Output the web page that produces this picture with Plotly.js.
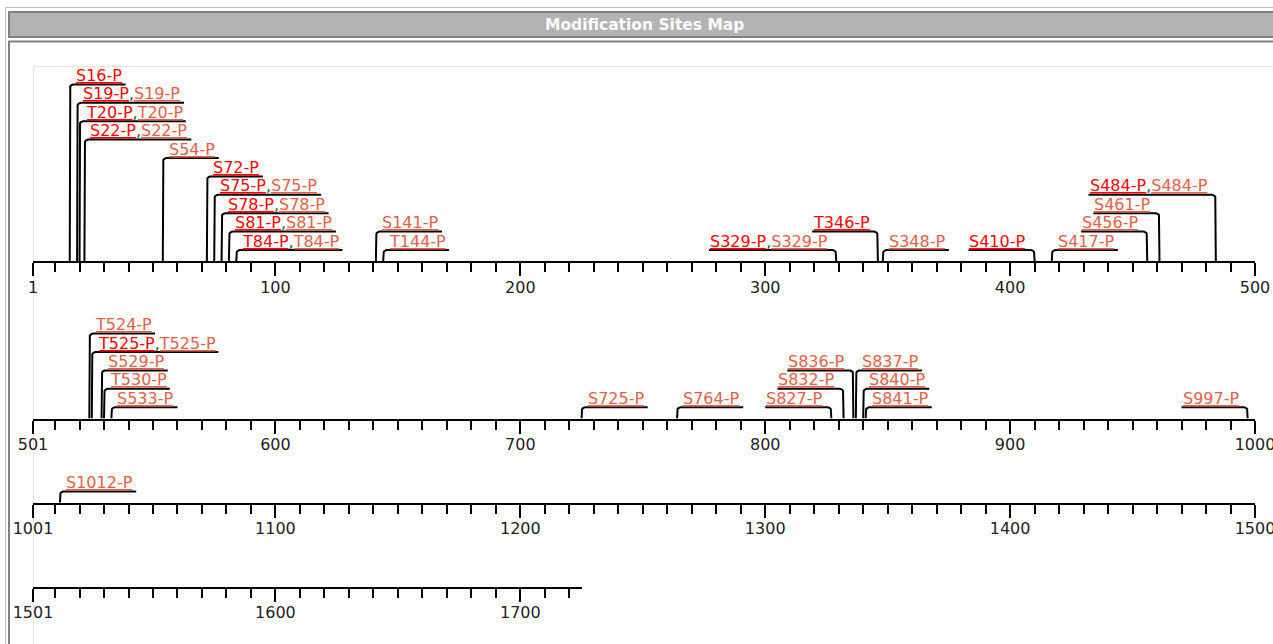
<!DOCTYPE html>
<html><head><meta charset="utf-8">
<script src="https://cdn.plot.ly/plotly-3.0.1.min.js"></script>
<style>html,body{margin:0;padding:0;background:#fff;overflow:hidden}#chart{width:1273px;height:644px}</style>
</head><body><div id="chart"></div>
<script>
// ---------------- data ----------------
const sequenceLength = 1725;
const residuesPerRow = 500;
const modification = 'P';
const sitePositions = [16,19,20,22,54,72,75,78,81,84,141,144,329,346,348,410,417,456,461,484,
                       524,525,529,530,533,725,764,827,832,836,837,840,841,997,1012];
const siteResidues  = ['S','S','T','S','S','S','S','S','S','T','S','T','S','T','S','S','S','S','S','S',
                       'T','T','S','T','S','S','S','S','S','S','S','S','S','S','S'];
// sites reported by source A (bright red links) and source B (salmon links)
const sourceASites = [16,19,20,22,72,75,78,81,84,329,346,410,484,525];
const sourceBSites = [19,20,22,54,75,78,81,84,141,144,329,348,417,456,461,484,
                      524,525,529,530,533,725,764,827,832,836,837,840,841,997,1012];
// side on which each label is written
const labelSide = ['R','R','R','R','R','R','R','R','R','R','R','R','L','L','R','L','R','L','L','L',
                   'R','R','R','R','R','R','R','L','L','L','R','R','R','L','R'];
const rowTickLabels = [
  ['1','100','200','300','400','500'],
  ['501','600','700','800','900','1000'],
  ['1001','1100','1200','1300','1400','1500'],
  ['1501','1600','1700']
];

// ---------------- layout constants ----------------
const W = 1273, H = 644;
const xLeft = 33, xRight = 1255;
const pxPerRes = (xRight - xLeft) / (residuesPerRow - 1);
const axisCenterY = [262.3, 419.5, 503.7, 588];
const rowTopY = [66, 300, 466, 552];
const lvl0 = 11.3, lvlStep = 18.4, corner = 4;
const fontSize = 16;
const labelFamily = '"DejaVu Sans", sans-serif';
const colA = '#ff0000', colB = '#e2604a', commaCol = '#444444';

const ctx = document.createElement('canvas').getContext('2d');
ctx.font = fontSize + 'px "DejaVu Sans"';
const tw = s => ctx.measureText(s).width;

const nRows = Math.ceil(sequenceLength / residuesPerRow);
const rowStart = r => r * residuesPerRow + 1;
const rowEnd = r => Math.min((r + 1) * residuesPerRow, sequenceLength);

// build items
const rowItems = Array.from({length: nRows}, () => []);
sitePositions.forEach((pos, i) => {
  const name = siteResidues[i] + pos + '-' + modification;
  const parts = [];
  if (sourceASites.includes(pos)) parts.push({t: name, c: colA});
  if (sourceBSites.includes(pos)) parts.push({t: name, c: colB});
  const plain = parts.map(p => p.t).join(',');
  const html = parts.map(p => '<span style="color:' + p.c + ';text-decoration:underline">' + p.t + '</span>')
                    .join('<span style="color:' + commaCol + '">,</span>');
  const r = Math.floor((pos - 1) / residuesPerRow);
  const sitePx = xLeft + (pos - rowStart(r)) * pxPerRes;
  const w = tw(plain);
  const side = labelSide[i];
  const a = side === 'R' ? sitePx : sitePx - w - 10;
  const b = side === 'R' ? sitePx + w + 10 : sitePx;
  rowItems[r].push({pos, html, w, side, sitePx, a, b});
});

function computeLevels(items) {
  const n = items.length;
  const contains = items.map((A, i) => items.map((B, j) =>
      (j !== i && B.sitePx > A.a + 0.5 && B.sitePx < A.b - 0.5) ? j : -1).filter(j => j >= 0));
  const level = new Array(n).fill(null);
  for (let done = 0; done < n; done++) {
    let pick = -1;
    for (let i = 0; i < n; i++) {
      if (level[i] !== null) continue;
      if (contains[i].every(j => level[j] !== null)) {
        if (pick < 0 || items[i].pos < items[pick].pos) pick = i;
      }
    }
    if (pick < 0) pick = level.findIndex(v => v === null);
    let L = 0;
    contains[pick].forEach(j => { if (level[j] !== null) L = Math.max(L, level[j] + 1); });
    const P = items[pick];
    while (items.some((B, j) => level[j] === L && B.a < P.b + 1 && P.a < B.b + 1)) L++;
    level[pick] = L;
  }
  return level;
}

const traces = [], annotations = [], layout = {};
for (let r = 0; r < nRows; r++) {
  const sfx = r === 0 ? '' : String(r + 1);
  const start = rowStart(r), end = rowEnd(r);
  const domBottom = axisCenterY[r] - 1;
  const domH = domBottom - rowTopY[r];
  const xEndPx = xLeft + (end - start) * pxPerRes;
  const majors = rowTickLabels[r].map(Number);
  const minors = [];
  for (let v = Math.ceil((start + 1) / 10) * 10; v <= end; v += 10) if (!majors.includes(v)) minors.push(v);
  layout['xaxis' + sfx] = {
    domain: [xLeft / W, xEndPx / W], range: [start, end], anchor: 'y' + sfx,
    showline: true, linewidth: 2, linecolor: '#000', showgrid: false, zeroline: false,
    ticks: 'outside', ticklen: 13, tickwidth: 2, tickcolor: '#000',
    tickmode: 'array', tickvals: majors, ticktext: rowTickLabels[r],
    tickfont: {family: labelFamily, size: 16, color: '#222'},
    ticklabeloverflow: 'allow', ticklabelstandoff: -3,
    minor: {tickmode: 'array', tickvals: minors, ticks: 'outside', ticklen: 9, tickwidth: 2, tickcolor: '#000', showgrid: false},
    fixedrange: true
  };
  layout['yaxis' + sfx] = {
    domain: [1 - domBottom / H, 1 - rowTopY[r] / H], range: [0, domH], anchor: 'x' + sfx,
    visible: false, showgrid: false, zeroline: false, fixedrange: true
  };
  const items = rowItems[r];
  const levels = computeLevels(items);
  const xs = [], ys = [];
  const rr = corner / pxPerRes;
  items.forEach((it, k) => {
    const L = lvl0 + lvlStep * levels[k];
    const dir = it.side === 'R' ? 1 : -1;
    const s = it.pos;
    xs.push(s); ys.push(0);
    for (let t = 0; t <= 6; t++) {
      const th = t / 6 * Math.PI / 2;
      xs.push(s + dir * (rr - rr * Math.cos(th)));
      ys.push(L - corner + corner * Math.sin(th));
    }
    const farEnd = it.side === 'R' ? s + (it.w + 10) / pxPerRes : s - (it.w + 10) / pxPerRes;
    xs.push(farEnd); ys.push(L);
    xs.push(null); ys.push(null);
    annotations.push({
      xref: 'x' + sfx, yref: 'y' + sfx,
      x: it.side === 'R' ? s + 5 / pxPerRes : farEnd, y: L,
      xanchor: 'left', yanchor: 'bottom', yshift: -1.5, borderpad: 0,
      showarrow: false, text: it.html,
      font: {family: labelFamily, size: fontSize, color: colB}
    });
  });
  traces.push({
    type: 'scatter', mode: 'lines', x: xs.length ? xs : [null], y: ys.length ? ys : [null],
    xaxis: 'x' + sfx, yaxis: 'y' + sfx,
    line: {color: '#000', width: 2}, hoverinfo: 'skip', showlegend: false, connectgaps: false
  });
}

const px = x => x / W, py = y => 1 - y / H;
const shapes = [
  {type: 'rect', xref: 'paper', yref: 'paper', x0: px(33.5), x1: px(1300), y0: py(66.5), y1: py(700),
   line: {color: '#e4e4e4', width: 1}, layer: 'below'},
  {type: 'rect', xref: 'paper', yref: 'paper', x0: px(5.5), x1: px(1300), y0: py(7.5), y1: py(700),
   line: {color: '#bdbdbd', width: 1}},
  {type: 'rect', xref: 'paper', yref: 'paper', x0: px(9), x1: px(1300), y0: py(12), y1: py(37),
   line: {color: '#808080', width: 2}, fillcolor: '#b3b3b3'},
  {type: 'rect', xref: 'paper', yref: 'paper', x0: px(9), x1: px(1300), y0: py(41.5), y1: py(700),
   line: {color: '#808080', width: 2}}
];
annotations.push({
  xref: 'paper', yref: 'paper', x: px(644), y: py(24.5), xanchor: 'center', yanchor: 'middle',
  showarrow: false, text: '<b>Modification Sites Map</b>',
  font: {family: '"DejaVu Sans", sans-serif', size: 15.5, color: '#ffffff'}
});

Object.assign(layout, {
  width: W, height: H, margin: {l: 0, r: 0, t: 0, b: 0},
  paper_bgcolor: '#ffffff', plot_bgcolor: 'rgba(0,0,0,0)',
  showlegend: false, shapes, annotations
});
Plotly.newPlot('chart', traces, layout, {staticPlot: true, displayModeBar: false});
</script></body></html>
